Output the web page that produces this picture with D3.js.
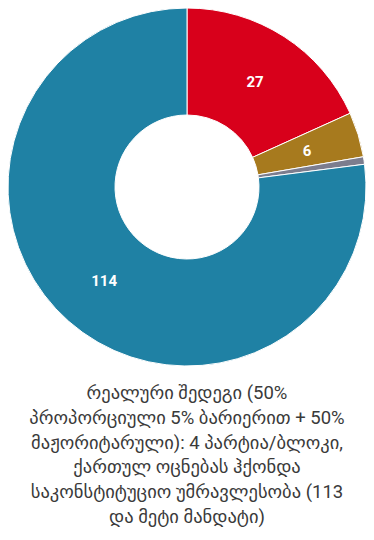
<!DOCTYPE html>
<html>
<head>
<meta charset="utf-8">
<script src="https://cdn.jsdelivr.net/npm/d3@7"></script>
<style>
  body { margin: 0; background: #fff; }
  svg { display: block; }
</style>
</head>
<body>
<div id="chart"></div>
<script>
// seats per party / bloc, clockwise from top
var parties = ['ერთიანი ნაციონალური მოძრაობა', 'ევროპელი სოციალისტები', 'სხვა', 'ქართული ოცნება'];
var seats = [27, 6, 1, 114];
var colors = ['#d8001b', '#a77a1e', '#7c7d8e', '#1f81a4'];
var caption = [
  'რეალური შედეგი (50%',
  'პროპორციული 5% ბარიერით + 50%',
  'მაჟორიტარული): 4 პარტია/ბლოკი,',
  'ქართულ ოცნებას ჰქონდა',
  'საკონსტიტუციო უმრავლესობა (113',
  'და მეტი მანდატი)'
];

var W = 374, H = 540;
var cx = 187, cy = 187, rOut = 179, rIn = 72;

var svg = d3.select('#chart').append('svg').attr('width', W).attr('height', H);

var data = seats.map(function(v, i) { return {name: parties[i], value: v, color: colors[i]}; });

var pie = d3.pie().value(function(d) { return d.value; }).sort(null);
var arc = d3.arc().innerRadius(rIn).outerRadius(rOut);
var arcs = pie(data);

var g = svg.append('g').attr('transform', 'translate(' + cx + ',' + cy + ')');

g.selectAll('path').data(arcs).enter().append('path')
  .attr('d', arc)
  .attr('fill', function(d) { return d.data.color; })
  .attr('stroke', '#fff')
  .attr('stroke-width', 1);

// labels only on slices big enough
g.selectAll('text').data(arcs.filter(function(d) { return d.data.value > 3; })).enter().append('text')
  .attr('transform', function(d) { return 'translate(' + arc.centroid(d) + ')'; })
  .attr('text-anchor', 'middle')
  .attr('dy', '0.35em')
  .attr('fill', '#fff')
  .style('font-family', 'Roboto, sans-serif')
  .style('font-weight', 'bold')
  .style('font-size', '15px')
  .text(function(d) { return d.data.value; });

svg.append('text')
  .attr('x', cx)
  .attr('y', 399)
  .attr('text-anchor', 'middle')
  .attr('fill', '#3a3a3a')
  .style('font-family', 'Roboto, "DejaVu Sans", sans-serif')
  .style('font-size', '18.5px')
  .selectAll('tspan').data(caption).enter().append('tspan')
  .attr('x', cx)
  .attr('dy', function(d, i) { return i === 0 ? 0 : 24.8; })
  .text(function(d) { return d; });
</script>
</body>
</html>
